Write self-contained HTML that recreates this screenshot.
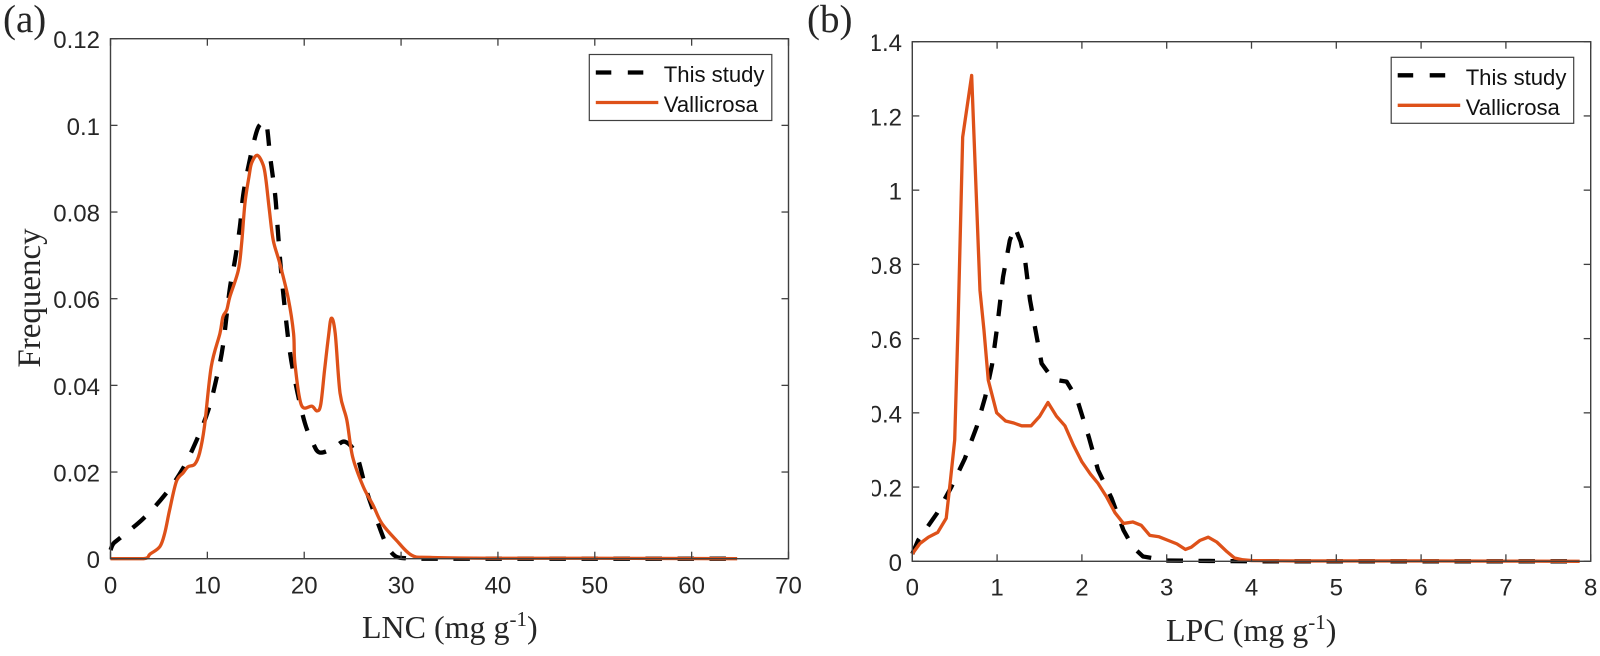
<!DOCTYPE html>
<html lang="en">
<head>
<meta charset="utf-8">
<title>LNC and LPC frequency distributions</title>
<style>
html,body{margin:0;padding:0;background:#fff;width:1600px;height:656px;overflow:hidden}
svg{display:block}
.tick-text{font-family:"Liberation Sans",Arial,sans-serif;font-size:24px;fill:#262626}
.legend-text{font-family:"Liberation Sans",Arial,sans-serif;font-size:22.1px;fill:#111}
.title-text{font-family:"Liberation Serif","Times New Roman",serif;fill:#262626}
</style>
</head>
<body>
<svg id="chart" xmlns="http://www.w3.org/2000/svg" width="1600" height="656" viewBox="0 0 1600 656">
  <defs>
    <clipPath id="b-label-clip"><rect x="872" y="0" width="60" height="656"></rect></clipPath>
  </defs>
  <rect x="0" y="0" width="1600" height="656" fill="#fff"></rect>

  <g id="panel-a"></g>
  <g id="panel-b"></g>

  <text class="title-text" x="3" y="32" font-size="39">(a)</text>
  <text class="title-text" x="807" y="32" font-size="39">(b)</text>
  <text class="title-text" font-size="33" text-anchor="middle" transform="translate(40 298) rotate(-90)">Frequency</text>
  <text class="title-text" x="362" y="638" font-size="32">LNC (mg g<tspan font-size="21" dy="-12">-1</tspan><tspan dy="12">)</tspan></text>
  <text class="title-text" x="1166" y="641" font-size="32">LPC (mg g<tspan font-size="21" dy="-12">-1</tspan><tspan dy="12">)</tspan></text>
</svg>

<script>
// Panel (a) data
const aXTicks = [0, 10, 20, 30, 40, 50, 60, 70];
const aYTicks = [0, 0.02, 0.04, 0.06, 0.08, 0.1, 0.12];
const aStudyX = [0, 0.3, 1, 3.4, 5.6, 7.4, 8.9, 10.1, 10.9, 11.6, 12.3, 12.85, 13.36, 13.7, 14.3, 15.08, 15.6, 16.1, 16.5, 17, 17.25, 17.5, 17.8, 18.45, 19.14, 20.07, 20.9, 21.6, 23, 24.2, 25.4, 26.4, 27.5, 28.5, 29.4, 30.5, 32, 40, 50, 60, 64.7];
const aStudyY = [0.002, 0.0035, 0.0048, 0.0093, 0.0147, 0.0205, 0.0274, 0.0343, 0.0412, 0.049, 0.062, 0.0689, 0.0766, 0.0839, 0.0912, 0.0985, 0.1005, 0.1003, 0.0925, 0.0839, 0.0766, 0.0693, 0.062, 0.0489, 0.0401, 0.0313, 0.0267, 0.0245, 0.0255, 0.027, 0.0239, 0.0159, 0.0089, 0.0032, 0.0006, 0.0001, 0, 0, 0, 0, 0];
const aValliX = [0, 3.4, 4.1, 5.1, 5.6, 6.1, 6.8, 7.5, 8, 8.7, 9.2, 9.7, 10.4, 11.3, 11.6, 12, 12.33, 13.2, 13.54, 13.88, 14.3, 14.57, 15.15, 15.77, 16.05, 16.4, 16.8, 17.47, 18.35, 18.9, 19.04, 19.7, 20.8, 21.3, 21.7, 22.1, 22.5, 22.8, 23.2, 23.7, 24.4, 25, 26.1, 27.1, 28, 29.5, 31.1, 33, 40, 50, 64.7];
const aValliY = [0, 0, 0.0011, 0.0028, 0.0059, 0.0112, 0.0178, 0.0198, 0.0212, 0.0218, 0.0244, 0.0305, 0.0443, 0.052, 0.0558, 0.0574, 0.0605, 0.0666, 0.0728, 0.082, 0.0882, 0.0913, 0.0931, 0.0908, 0.0874, 0.0805, 0.0735, 0.0682, 0.0601, 0.052, 0.0451, 0.0355, 0.0352, 0.0341, 0.0355, 0.0435, 0.0512, 0.0555, 0.052, 0.0382, 0.032, 0.0235, 0.0166, 0.0124, 0.0082, 0.0043, 0.0008, 0.0003, 0.0001, 0.0001, 0];

// Panel (b) data
const bXTicks = [0, 1, 2, 3, 4, 5, 6, 7, 8];
const bYTicks = [0, 0.2, 0.4, 0.6, 0.8, 1, 1.2, 1.4];
const bStudyX = [0, 0.07, 0.29, 0.46, 0.62, 0.76, 0.86, 0.94, 1.0, 1.07, 1.15, 1.21, 1.278, 1.33, 1.388, 1.447, 1.525, 1.66, 1.82, 1.94, 2.08, 2.19, 2.35, 2.49, 2.6, 2.72, 3, 3.5, 4, 5, 6, 7, 7.87];
const bStudyY = [0.02, 0.057, 0.129, 0.2, 0.277, 0.363, 0.443, 0.529, 0.63, 0.766, 0.865, 0.9, 0.861, 0.811, 0.704, 0.63, 0.533, 0.49, 0.484, 0.439, 0.336, 0.246, 0.17, 0.084, 0.039, 0.013, 0.002, 0.001, 0, 0, 0, 0, 0];
const bValliX = [0, 0.09, 0.19, 0.3, 0.4, 0.45, 0.5, 0.54, 0.594, 0.7, 0.798, 0.845, 0.896, 0.995, 1.1, 1.19, 1.29, 1.4, 1.5, 1.6, 1.7, 1.8, 1.9, 2.0, 2.1, 2.19, 2.29, 2.39, 2.49, 2.6, 2.7, 2.8, 2.91, 3.02, 3.12, 3.22, 3.29, 3.39, 3.49, 3.59, 3.71, 3.8, 3.9, 4, 4.5, 5, 6, 7, 7.87];
const bValliY = [0.02, 0.048, 0.065, 0.078, 0.116, 0.219, 0.327, 0.642, 1.143, 1.309, 0.73, 0.623, 0.488, 0.4, 0.378, 0.373, 0.365, 0.365, 0.39, 0.428, 0.391, 0.365, 0.313, 0.268, 0.235, 0.21, 0.174, 0.131, 0.102, 0.106, 0.097, 0.07, 0.066, 0.056, 0.047, 0.032, 0.038, 0.056, 0.065, 0.052, 0.026, 0.009, 0.004, 0.002, 0.001, 0.001, 0.001, 0.0005, 0];

const legendLabels = ["This study", "Vallicrosa"];

const NS = "http://www.w3.org/2000/svg";
const AXIS_COLOR = "#404040";
const ORANGE = "#DE5119";

function make(parent, tag, attrs, text) {
  const el = document.createElementNS(NS, tag);
  for (const k in attrs) el.setAttribute(k, attrs[k]);
  if (text !== undefined) el.textContent = text;
  parent.appendChild(el);
  return el;
}

function linePath(xs, ys, sx, sy) {
  return xs.map((x, i) => (i ? "L" : "M") + sx(x).toFixed(2) + " " + sy(ys[i]).toFixed(2)).join(" ");
}

function smoothPath(xs, ys, sx, sy) {
  const pts = xs.map((x, i) => [sx(x), sy(ys[i])]);
  const maxY = sy(0);
  let d = "M" + pts[0][0].toFixed(2) + " " + pts[0][1].toFixed(2);
  for (let i = 0; i < pts.length - 1; i++) {
    const p0 = pts[Math.max(0, i - 1)];
    const p1 = pts[i];
    const p2 = pts[i + 1];
    const p3 = pts[Math.min(pts.length - 1, i + 2)];
    const c1x = p1[0] + (p2[0] - p0[0]) / 6;
    const c1y = Math.min(maxY, p1[1] + (p2[1] - p0[1]) / 6);
    const c2x = p2[0] - (p3[0] - p1[0]) / 6;
    const c2y = Math.min(maxY, p2[1] - (p3[1] - p1[1]) / 6);
    d += " C" + c1x.toFixed(2) + " " + c1y.toFixed(2) + " " + c2x.toFixed(2) + " " + c2y.toFixed(2) + " " + p2[0].toFixed(2) + " " + p2[1].toFixed(2);
  }
  return d;
}

function drawPanel(cfg) {
  const root = document.getElementById(cfg.id);
  const sx = v => cfg.left + (v - cfg.xTicks[0]) / (cfg.xTicks[cfg.xTicks.length - 1] - cfg.xTicks[0]) * (cfg.right - cfg.left);
  const sy = v => cfg.bottom - (v - cfg.yTicks[0]) / (cfg.yTicks[cfg.yTicks.length - 1] - cfg.yTicks[0]) * (cfg.bottom - cfg.top);

  const studyD = cfg.smooth ? smoothPath(cfg.studyX, cfg.studyY, sx, sy) : linePath(cfg.studyX, cfg.studyY, sx, sy);
  const study = make(root, "path", {d: studyD, fill: "none", stroke: "#000", "stroke-width": 4.3, "stroke-dasharray": "16.5 15.5", "stroke-linejoin": "round"});
  
  

  const valliD = cfg.smooth ? smoothPath(cfg.valliX, cfg.valliY, sx, sy) : linePath(cfg.valliX, cfg.valliY, sx, sy);
  const valli = make(root, "path", {d: valliD, fill: "none", stroke: ORANGE, "stroke-width": 3.3, "stroke-linejoin": "round"});
  
  

  const frame = make(root, "rect", {x: cfg.left, y: cfg.top, width: cfg.right - cfg.left, height: cfg.bottom - cfg.top, fill: "none", stroke: AXIS_COLOR, "stroke-width": 1.4});
  
  

  cfg.xTicks.forEach(t => {
    const x = sx(t);
    const bottomTick = make(root, "line", {x1: x, x2: x, y1: cfg.bottom, y2: cfg.bottom - 7, stroke: AXIS_COLOR, "stroke-width": 1.3});
    
    
    const topTick = make(root, "line", {x1: x, x2: x, y1: cfg.top, y2: cfg.top + 7, stroke: AXIS_COLOR, "stroke-width": 1.3});
    
    
    const label = make(root, "text", {class: "tick-text", x: x, y: cfg.xLabelY, "text-anchor": "middle"}, String(t));
    
    
  });

  const yLabelGroup = make(root, "g", cfg.labelClip ? {"clip-path": "url(#" + cfg.labelClip + ")"} : {});
  
  
  cfg.yTicks.forEach(t => {
    const y = sy(t);
    const leftTick = make(root, "line", {x1: cfg.left, x2: cfg.left + 7, y1: y, y2: y, stroke: AXIS_COLOR, "stroke-width": 1.3});
    
    
    const rightTick = make(root, "line", {x1: cfg.right, x2: cfg.right - 7, y1: y, y2: y, stroke: AXIS_COLOR, "stroke-width": 1.3});
    
    
    const label = make(yLabelGroup, "text", {class: "tick-text", x: cfg.yLabelX, y: y + 9.5, "text-anchor": "end"}, String(t));
    
    
  });

  const lg = make(root, "g", {});
  
  
  const L = cfg.legend;
  const box = make(lg, "rect", {x: L.x, y: L.y, width: 182.5, height: 66, fill: "#fff", stroke: AXIS_COLOR, "stroke-width": 1.2});
  
  
  const h1 = make(lg, "line", {x1: L.x + 6.5, x2: L.x + 69, y1: L.y + 18, y2: L.y + 18, stroke: "#000", "stroke-width": 4.3, "stroke-dasharray": "15.5 16.5"});
  
  
  const h2 = make(lg, "line", {x1: L.x + 6.5, x2: L.x + 69, y1: L.y + 48, y2: L.y + 48, stroke: ORANGE, "stroke-width": 3.3});
  
  
  const t1 = make(lg, "text", {class: "legend-text", x: L.x + 74.5, y: L.y + 27.5}, legendLabels[0]);
  
  
  const t2 = make(lg, "text", {class: "legend-text", x: L.x + 74.5, y: L.y + 57.5}, legendLabels[1]);
  
  
}

drawPanel({
  id: "panel-a", left: 110.5, right: 788.5, top: 38.7, bottom: 558.7,
  xTicks: aXTicks, yTicks: aYTicks, studyX: aStudyX, studyY: aStudyY, valliX: aValliX, valliY: aValliY, smooth: true,
  xLabelY: 593.5, yLabelX: 100, legend: {x: 589.3, y: 54.5}
});
drawPanel({
  id: "panel-b", left: 912.3, right: 1590.7, top: 41.7, bottom: 561.3,
  xTicks: bXTicks, yTicks: bYTicks, studyX: bStudyX, studyY: bStudyY, valliX: bValliX, valliY: bValliY, smooth: false,
  xLabelY: 595.5, yLabelX: 902, labelClip: "b-label-clip", legend: {x: 1391.2, y: 57.3}
});
</script>
</body>
</html>
